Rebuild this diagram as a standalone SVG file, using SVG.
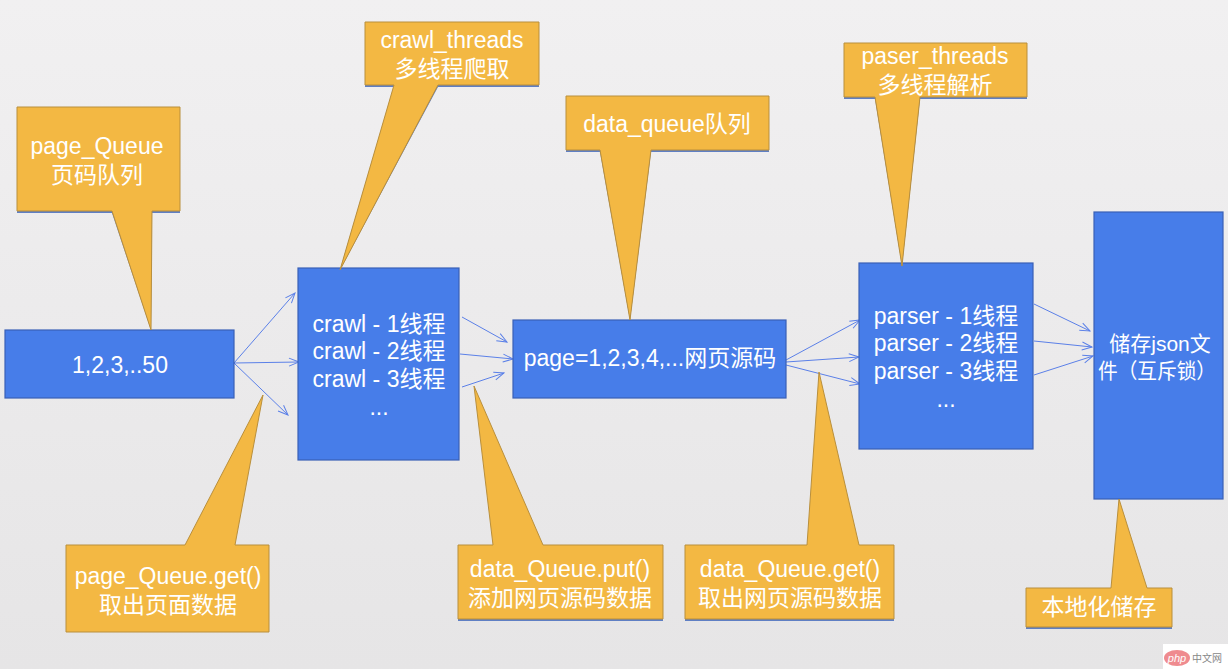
<svg xmlns="http://www.w3.org/2000/svg" width="1228" height="669" viewBox="0 0 1228 669">
<defs>
<linearGradient id="bg" x1="0" y1="0" x2="0" y2="1">
<stop offset="0" stop-color="#f1f0f1"/>
<stop offset="1" stop-color="#e6e5e6"/>
</linearGradient>
<marker id="ah" markerWidth="12" markerHeight="10" refX="11" refY="5" orient="auto" markerUnits="userSpaceOnUse">
<path d="M1,1 L11,5 L1,9" fill="none" stroke="#5b80e8" stroke-width="1"/>
</marker>
</defs>
<style>
.node{fill:#477de9;stroke:#3a60b6;stroke-width:1.2}
.call{fill:#f3b843;stroke:#b98f3c;stroke-width:1}
.shadow{fill:#5f7fc4}
.t{font-family:"Liberation Sans","Noto Sans CJK SC",sans-serif;font-size:23px;fill:#ffffff;text-anchor:middle}
.conn line{stroke:#5b80e8;stroke-width:1;marker-end:url(#ah)}
</style>
<rect x="0" y="0" width="1228" height="669" fill="url(#bg)"/>

<g id="connectors" class="conn">
<line x1="234" y1="363" x2="295" y2="293"/>
<line x1="234" y1="363" x2="299" y2="362"/>
<line x1="234" y1="363" x2="288" y2="415"/>
<line x1="462" y1="317" x2="507" y2="342"/>
<line x1="460" y1="354" x2="513" y2="359"/>
<line x1="462" y1="387" x2="504" y2="373"/>
<line x1="786" y1="360" x2="860" y2="320"/>
<line x1="786" y1="362" x2="859" y2="357"/>
<line x1="786" y1="365" x2="860" y2="384"/>
<line x1="1034" y1="304" x2="1090" y2="331"/>
<line x1="1034" y1="341" x2="1092" y2="347"/>
<line x1="1034" y1="375" x2="1093" y2="356"/>
</g>

<g id="node-pages">
<rect class="node" x="5" y="330" width="229" height="68"/>
<text class="t" x="120" y="373">1,2,3,..50</text>
</g>
<g id="node-crawl">
<rect class="node" x="298" y="268" width="161" height="192"/>
<text class="t" x="379" y="332">crawl - 1线程</text>
<text class="t" x="379" y="359">crawl - 2线程</text>
<text class="t" x="379" y="387">crawl - 3线程</text>
<text class="t" x="379" y="415">...</text>
</g>
<g id="node-data">
<rect class="node" x="513" y="320" width="273" height="78"/>
<text class="t" x="650" y="366">page=1,2,3,4,...网页源码</text>
</g>
<g id="node-parser">
<rect class="node" x="859" y="263" width="174" height="186"/>
<text class="t" x="946" y="324">parser - 1线程</text>
<text class="t" x="946" y="351">parser - 2线程</text>
<text class="t" x="946" y="379">parser - 3线程</text>
<text class="t" x="946" y="407">...</text>
</g>
<g id="node-store">
<rect class="node" x="1094" y="212" width="129" height="287"/>
<text class="t" x="1160" y="351" style="font-size:21px">储存json文</text>
<text class="t" x="1157" y="378" style="font-size:21px" textLength="118" lengthAdjust="spacingAndGlyphs">件（互斥锁）</text>
</g>

<g id="callout-page-queue">
<path class="shadow" d="M17,107 H180 V213 H152 L151,330 L112,213 H17 Z" transform="translate(0,0)"/>
<path class="call" d="M17,107 H180 V211 H152 L151,330 L112,211 H17 Z"/>
<text class="t" x="97" y="154">page_Queue</text>
<text class="t" x="97" y="183">页码队列</text>
</g>
<g id="callout-crawl-threads">
<path class="shadow" d="M365,22 H539 V87 H438 L340,270 L394,87 H365 Z"/>
<path class="call" d="M365,22 H539 V85 H438 L340,270 L394,85 H365 Z"/>
<text class="t" x="452" y="48">crawl_threads</text>
<text class="t" x="452" y="77">多线程爬取</text>
</g>
<g id="callout-data-queue">
<path class="shadow" d="M566,96 H769 V152 H651 L630,320 L600,152 H566 Z"/>
<path class="call" d="M566,96 H769 V150 H651 L630,320 L600,150 H566 Z"/>
<text class="t" x="667" y="132">data_queue队列</text>
</g>
<g id="callout-paser-threads">
<path class="shadow" d="M844,43 H1027 V99 H920 L902,266 L875,99 H844 Z"/>
<path class="call" d="M844,43 H1027 V97 H920 L902,266 L875,97 H844 Z"/>
<text class="t" x="935" y="64">paser_threads</text>
<text class="t" x="935" y="93">多线程解析</text>
</g>
<g id="callout-page-get">
<path class="call" d="M66,545 H185 L263,395 L235,545 H269 V632 H66 Z"/>
<text class="t" x="168" y="584">page_Queue.get()</text>
<text class="t" x="168" y="613">取出页面数据</text>
</g>
<g id="callout-data-put">
<path class="shadow" d="M458,547 H663 V621 H458 Z"/>
<path class="call" d="M458,545 H493 L474,386 L543,545 H663 V619 H458 Z"/>
<text class="t" x="560" y="577">data_Queue.put()</text>
<text class="t" x="560" y="606">添加网页源码数据</text>
</g>
<g id="callout-data-get">
<path class="shadow" d="M685,547 H894 V621 H685 Z"/>
<path class="call" d="M685,545 H807 L819,372 L859,545 H894 V619 H685 Z"/>
<text class="t" x="790" y="577">data_Queue.get()</text>
<text class="t" x="790" y="606">取出网页源码数据</text>
</g>
<g id="callout-local-store">
<path class="shadow" d="M1026,590 H1172 V629 H1026 Z"/>
<path class="call" d="M1026,588 H1111 L1119,499 L1147,588 H1172 V627 H1026 Z"/>
<text class="t" x="1099" y="615">本地化储存</text>
</g>

<g id="watermark">
<rect x="1163" y="644" width="65" height="25" fill="#ffffff"/>
<ellipse cx="1177" cy="658" rx="13" ry="8" fill="#ef8b8f"/>
<text x="1177" y="662" font-family="Liberation Sans, sans-serif" font-size="11" fill="#ffffff" text-anchor="middle" font-style="italic">php</text>
<text x="1207" y="662" font-family="Noto Sans CJK SC, sans-serif" font-size="10" fill="#888888" text-anchor="middle">中文网</text>
</g>
</svg>
